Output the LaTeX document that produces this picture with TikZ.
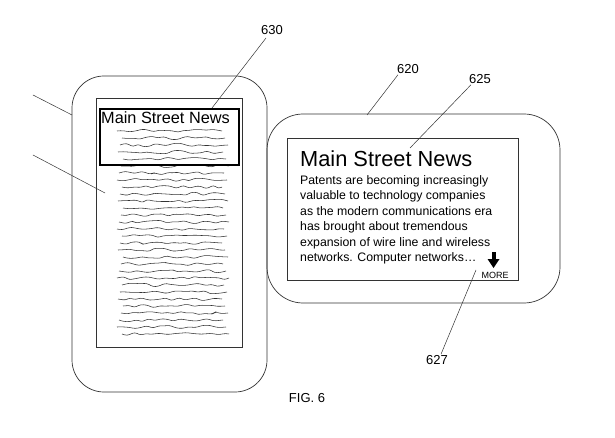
\documentclass[tikz,border=0pt]{standalone}
\usepackage{fontspec}
\setmainfont{Liberation Sans}
\usetikzlibrary{decorations.pathmorphing}
\begin{document}
\begin{tikzpicture}[x=1pt,y=-1pt,
  dev/.style={draw=black!80,line width=0.7pt,rounded corners=32pt},
  scr/.style={draw=black!80,line width=0.6pt},
  lead/.style={draw=black!80,line width=0.5pt},
  lab/.style={font=\fontsize{13}{13}\selectfont,inner sep=1pt},
  squig/.style={draw=black!80,line width=0.55pt,decorate,decoration={random steps,segment length=6pt,amplitude=1.8pt},rounded corners=2.5pt}]
\useasboundingbox (0,0) rectangle (615,438);
\pgfmathsetseed{7}
% left device
\draw[dev] (72,76) rectangle (267,392);
\draw[scr] (96,98) rectangle (242,347);
\foreach \i in {0,...,29}{
  \pgfmathsetmacro{\yy}{131+7*\i}
  \pgfmathsetmacro{\xa}{117+mod(\i*5,7)}
  \pgfmathsetmacro{\xb}{222+mod(\i*3,8)}
  \draw[squig] (\xa,\yy) -- (\xb,\yy);
}
\draw[draw=black,line width=1.3pt] (100,109) rectangle (239,165);
\node[font=\fontsize{16.3}{16}\selectfont,anchor=west,inner sep=0pt] (t1) at (101,118) {Main Street News};
\coordinate (l1a) at (33,95); \coordinate (l1b) at (72,115);
\coordinate (l2a) at (33,155); \coordinate (l2b) at (105,193);
\draw[lead] (l1a) -- (l1b);
\draw[lead] (l2a) -- (l2b);
\node[lab] (n630) at (272,30) {630};
\coordinate (p630) at (212,108);
\draw[lead] (266,38) -- (p630);
% right device
\draw[dev,rounded corners=36pt] (267,114) rectangle (560,303);
\draw[scr] (287,138) rectangle (518,280);
\node[font=\fontsize{21.8}{21}\selectfont,anchor=west,inner sep=0pt] (t2) at (300,159) {Main Street News};
\node[font=\fontsize{12.3}{15.5}\selectfont,anchor=north west,inner sep=0pt,align=left] (body) at (300,175)
 {Patents are becoming increasingly\\valuable to technology companies\\as the modern communications era\\has brought about tremendous\\expansion of wire line and wireless\\networks. Computer networks\ldots};
\node[font=\fontsize{9}{9}\selectfont,inner sep=0pt] (more) at (495,275) {MORE};
\fill (491.5,252) rectangle (495.5,260);
\fill (487.5,259) -- (499.5,259) -- (493.5,268) -- cycle;
\node[lab] (n620) at (408,69) {620};
\node[lab] (n625) at (480,79) {625};
\node[lab] (n627) at (437,360) {627};
\draw[lead] (n620.south west) ++(2,0) -- (367,115);
\draw[lead] (n625.south west) ++(3,0) -- (410,148);
\draw[lead] (n627.north) ++(4,0) -- (476,270);
\node[font=\fontsize{13}{13}\selectfont] (fig) at (307,398) {FIG. 6};
\end{tikzpicture}
\end{document}
